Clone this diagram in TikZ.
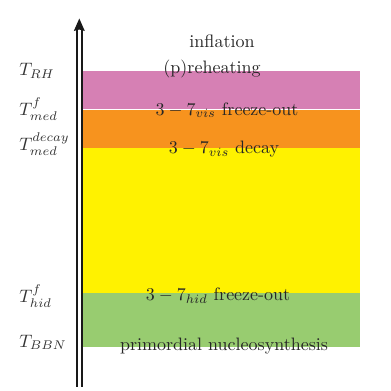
\documentclass[tikz,border=0pt]{standalone}
\usetikzlibrary{positioning}
\definecolor{cpink}{RGB}{214,128,180}
\definecolor{corange}{RGB}{247,147,30}
\definecolor{cyellow}{RGB}{255,242,0}
\definecolor{cgreen}{RGB}{152,204,112}
\begin{document}
\begin{tikzpicture}[x=1pt,y=-1pt,
  lab/.style={anchor=base, inner sep=0pt, scale=1.8, text=black!85},
  tlab/.style={anchor=base west, inner sep=0pt, scale=1.8, text=black!80}]
\useasboundingbox (0,0) rectangle (391,391);
% bands
\fill[cpink]   (83.3,70.8)  rectangle (360,108.6);
\fill[corange] (83.3,110)   rectangle (360,148.4);
\fill[cyellow] (83.3,148.4) rectangle (360,292.8);
\fill[cgreen]  (83.3,292.8) rectangle (360,346.8);
% arrow
\coordinate (bot) at (79.3,386.5);
\coordinate (shafttop) at (79.3,29);
\coordinate (tip) at (79.3,18.5);
\draw[black!90, line width=2.5pt, double=white, double distance=2.6pt] (bot) -- (shafttop);
\fill[black!90] (tip) -- (84.8,31) -- (79.3,29.5) -- (73.8,31) -- cycle;
% centre texts
\node[lab] (infl) at (222,47.5) {inflation};
\node[lab] (reh)  at (212,73.5) {(p)reheating};
\node[lab] (vfo)  at (227,115) {$3-7_{vis}$ freeze-out};
\node[lab] (vdec) at (224,153.5) {$3-7_{vis}$ decay};
\node[lab] (hfo)  at (218,300.5) {$3-7_{hid}$ freeze-out};
\node[lab] (bbn)  at (224,350.5) {primordial nucleosynthesis};
% left labels
\node[tlab] (trh)  at (19,75.5)  {$T_{RH}$};
\node[tlab] (tmf)  at (19,115) {$T^{f}_{med}$};
\node[tlab] (tmd)  at (19,150) {$T^{decay}_{med}$};
\node[tlab] (thf)  at (19,302) {$T^{f}_{hid}$};
\node[tlab] (tbbn) at (19,347) {$T_{BBN}$};
\end{tikzpicture}
\end{document}
